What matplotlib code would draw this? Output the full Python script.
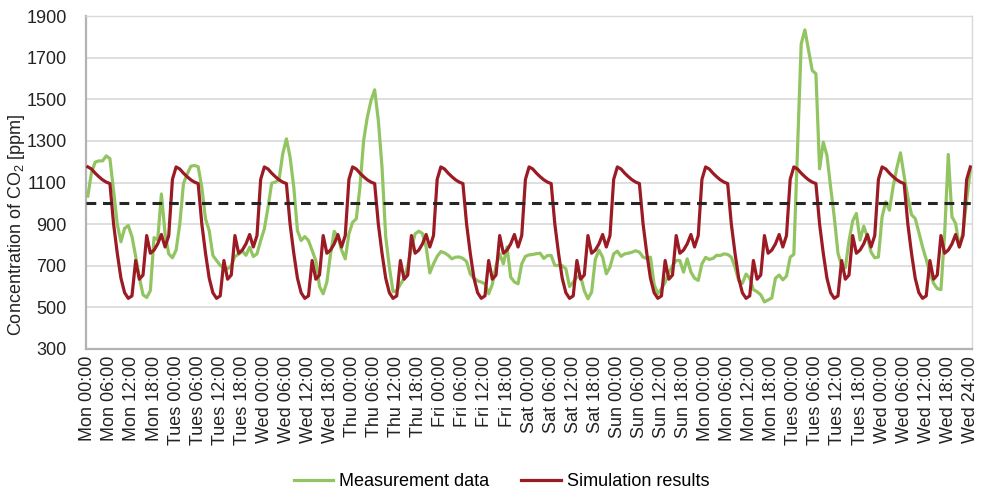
import numpy as np
import matplotlib
matplotlib.use('Agg')
import matplotlib.pyplot as plt

plt.rcParams['font.family'] = ['Liberation Sans', 'DejaVu Sans']
plt.rcParams['mathtext.fontset'] = 'custom'
plt.rcParams['mathtext.rm'] = 'Liberation Sans'

# Измерения CO2, по часам (Mon 00:00 .. Wed 24:00)
measured = [
    1035, 1150, 1198, 1204, 1204, 1228, 1215, 1060, 900, 815, 880, 893,
    840, 745, 645, 560, 547, 580, 835, 825, 1045, 855, 757, 738,
    775, 900, 1095, 1140, 1178, 1182, 1176, 1076, 925, 869, 749, 725,
    702, 690, 685, 700, 745, 755, 770, 750, 789, 744, 757, 821,
    877, 981, 1097, 1102, 1115, 1238, 1310, 1222, 1078, 869, 821, 840,
    821, 773, 725, 600, 565, 621, 757, 865, 840, 775, 733, 853,
    909, 925, 1078, 1302, 1414, 1494, 1546, 1398, 1174, 840, 693, 575,
    580, 610, 640, 700, 785, 853, 866, 855, 790, 665, 709, 745,
    768, 762, 750, 733, 741, 742, 735, 720, 660, 640, 627, 621,
    613, 565, 610, 700, 757, 709, 790, 645, 622, 613, 709, 745,
    752, 754, 758, 760, 735, 749, 749, 701, 701, 700, 685, 600,
    621, 645, 650, 580, 541, 573, 730, 775, 741, 661, 693, 757,
    770, 745, 757, 760, 765, 772, 765, 741, 735, 741, 610, 565,
    589, 621, 665, 700, 725, 725, 669, 733, 670, 640, 629, 709,
    740, 730, 735, 750, 749, 757, 754, 741, 693, 629, 615, 660,
    640, 585, 575, 560, 526, 535, 545, 640, 655, 632, 650, 741,
    755, 1260, 1767, 1834, 1735, 1639, 1623, 1166, 1294, 1230, 1078, 933,
    760, 700, 690, 820, 915, 951, 823, 890, 839, 765, 738, 742,
    935, 1007, 967, 1080, 1170, 1243, 1130, 1030, 945, 927, 860, 790,
    730, 665, 615, 590, 585, 850, 1235, 935, 903, 790, 860, 1015,
    1160,
]

# Результат моделирования: суточный профиль повторяется каждый день
sim_day = [1175, 1165, 1145, 1128, 1113, 1102, 1095, 900, 760, 640, 570, 543,
           555, 725, 635, 655, 845, 760, 775, 805, 850, 790, 845, 1115]
simulated = sim_day * 10 + [sim_day[0]]

limit = 1000

days = ['Mon', 'Tues', 'Wed', 'Thu', 'Fri', 'Sat', 'Sun', 'Mon', 'Tues', 'Wed']
tick_labels = [f'{d} {t}' for d in days for t in ['00:00', '06:00', '12:00', '18:00']]
tick_labels.append('Wed 24:00')

hours = np.arange(len(measured))

fig = plt.figure(figsize=(9.83, 4.9), dpi=100)
ax = fig.add_axes([0.0875, 0.288, 0.9015, 0.679])

ax.plot(hours, measured, color='#93c462', lw=2.3, label='Measurement data', zorder=3)
ax.plot(np.arange(len(simulated)), simulated, color='#9b1b25', lw=2.3,
        label='Simulation results', zorder=4)
ax.axhline(limit, color='#262626', lw=2.2, ls=(0, (3.2, 2.2)), zorder=5)

ax.set_xlim(-0.5, 240.5)
ax.set_ylim(300, 1900)
ax.set_yticks(np.arange(300, 1901, 200))
ax.set_xticks(np.arange(0, 241, 6))
ax.set_xticklabels(tick_labels, rotation=90)
ax.tick_params(axis='both', length=0, labelsize=13, colors='#222222')
ax.tick_params(axis='y', pad=14)
ax.tick_params(axis='x', pad=5)

ax.grid(axis='y', color='#d9d9d9', lw=1.2)
ax.set_axisbelow(True)
for s in ['left', 'bottom']:
    ax.spines[s].set_color('#b3b3b3')
    ax.spines[s].set_linewidth(1.6)
for s in ['top', 'right']:
    ax.spines[s].set_color('#d9d9d9')
    ax.spines[s].set_linewidth(1.0)

# подпись оси Y смещена вниз, как в оригинале
fig.text(17 / 983, 1 - 225 / 490, r'Concentration of CO$_\mathregular{2}$ [ppm]',
         rotation=90, ha='center', va='center', fontsize=13, color='#222222')

fig.legend(loc='lower center', bbox_to_anchor=(0.51, -0.034), ncol=2, frameon=False,
           fontsize=13, handlelength=2.2, handletextpad=0.3, columnspacing=1.8)

fig.savefig('out.png', dpi=100)
